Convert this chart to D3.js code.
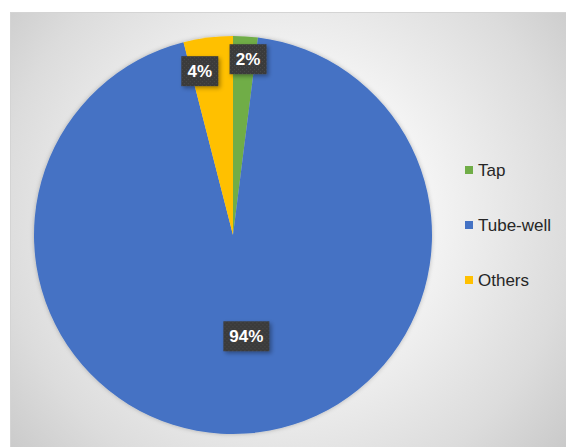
<!DOCTYPE html>
<html>
<head>
<meta charset="utf-8">
<script src="https://cdn.jsdelivr.net/npm/d3@7"></script>
<style>
  html, body { margin: 0; padding: 0; background: #ffffff; }
  svg { display: block; }
</style>
</head>
<body>
<script>
// Drinking-water source shares
const categories = ["Tap", "Tube-well", "Others"];
const shares = [2, 94, 4];
const labels = ["2%", "94%", "4%"];
const colors = ["#70AD47", "#4472C4", "#FFC000"];

const W = 566, H = 447;
const svg = d3.select("body").append("svg").attr("width", W).attr("height", H);
const defs = svg.append("defs");

// chart-area background: soft radial grey
const bg = defs.append("radialGradient").attr("id", "bgGrad")
  .attr("gradientUnits", "userSpaceOnUse")
  .attr("cx", 285).attr("cy", 215).attr("r", 380);
bg.append("stop").attr("offset", "0").attr("stop-color", "#ffffff");
bg.append("stop").attr("offset", "0.35").attr("stop-color", "#f6f6f6");
bg.append("stop").attr("offset", "0.75").attr("stop-color", "#dcdcdc");
bg.append("stop").attr("offset", "1").attr("stop-color", "#c6c6c6");

// dotted dark texture for data-label boxes
const pat = defs.append("pattern").attr("id", "lblTex")
  .attr("patternUnits", "userSpaceOnUse").attr("width", 4).attr("height", 4);
pat.append("rect").attr("width", 4).attr("height", 4).attr("fill", "#3a3a3a");
pat.append("rect").attr("x", 0).attr("y", 0).attr("width", 1).attr("height", 1).attr("fill", "#4d4d4d");
pat.append("rect").attr("x", 2).attr("y", 2).attr("width", 1).attr("height", 1).attr("fill", "#4d4d4d");

const shadow = defs.append("filter").attr("id", "lblShadow")
  .attr("x", "-30%").attr("y", "-30%").attr("width", "160%").attr("height", "160%");
shadow.append("feDropShadow").attr("dx", 2).attr("dy", 2).attr("stdDeviation", 2)
  .attr("flood-color", "#000").attr("flood-opacity", 0.35);

const pieShadow = defs.append("filter").attr("id", "pieShadow")
  .attr("x", "-10%").attr("y", "-10%").attr("width", "120%").attr("height", "120%");
pieShadow.append("feDropShadow").attr("dx", 0).attr("dy", 0).attr("stdDeviation", 2)
  .attr("flood-color", "#000").attr("flood-opacity", 0.25);

svg.append("rect")
  .attr("x", 10.5).attr("y", 12.5).attr("width", W).attr("height", H)
  .attr("fill", "url(#bgGrad)").attr("stroke", "#d4d4d4").attr("stroke-width", 1);

// pie
const cx = 233, cy = 235, R = 199;
const pie = d3.pie().sort(null).value(d => d.v);
const arcs = pie(categories.map((c, i) => ({ c, v: shares[i], label: labels[i], color: colors[i] })));
const arc = d3.arc().innerRadius(0).outerRadius(R);

const g = svg.append("g").attr("transform", `translate(${cx},${cy})`);
g.append("g").attr("filter", "url(#pieShadow)")
  .selectAll("path").data(arcs).join("path")
  .attr("d", arc)
  .attr("fill", d => d.data.color)
  .attr("stroke", "none");

// data labels: radius fraction along the mid-angle, plus a small nudge to keep boxes apart
const labelRadius = [0.885, 0.51, 0.85];
const labelNudge = [[4, 0], [7, 0], [-12, 4]];
const labelG = g.selectAll("g.lbl").data(arcs).join("g").attr("class", "lbl")
  .attr("transform", (d, i) => {
    const a = (d.startAngle + d.endAngle) / 2;
    const r = R * labelRadius[i];
    return `translate(${Math.sin(a) * r + labelNudge[i][0]},${-Math.cos(a) * r + labelNudge[i][1]})`;
  });
labelG.append("rect")
  .attr("x", d => d.data.label.length > 2 ? -23 : -18.5)
  .attr("y", -15)
  .attr("width", d => d.data.label.length > 2 ? 46 : 37)
  .attr("height", 30)
  .attr("fill", "url(#lblTex)")
  .attr("filter", "url(#lblShadow)");
labelG.append("text")
  .attr("text-anchor", "middle").attr("dy", "0.36em")
  .attr("font-family", "'Liberation Sans', Arial, sans-serif")
  .attr("font-weight", "bold").attr("font-size", 17)
  .attr("fill", "#ffffff")
  .text(d => d.data.label);

// legend
const legend = svg.append("g").attr("transform", "translate(465,170)");
const item = legend.selectAll("g").data(categories).join("g")
  .attr("transform", (d, i) => `translate(0,${i * 55})`);
item.append("rect").attr("x", 0).attr("y", -4).attr("width", 8).attr("height", 8)
  .attr("fill", (d, i) => colors[i]);
item.append("text").attr("x", 13).attr("dy", "0.36em")
  .attr("font-family", "'Liberation Sans', Arial, sans-serif")
  .attr("font-size", 17).attr("fill", "#262626")
  .text(d => d);
</script>
</body>
</html>
